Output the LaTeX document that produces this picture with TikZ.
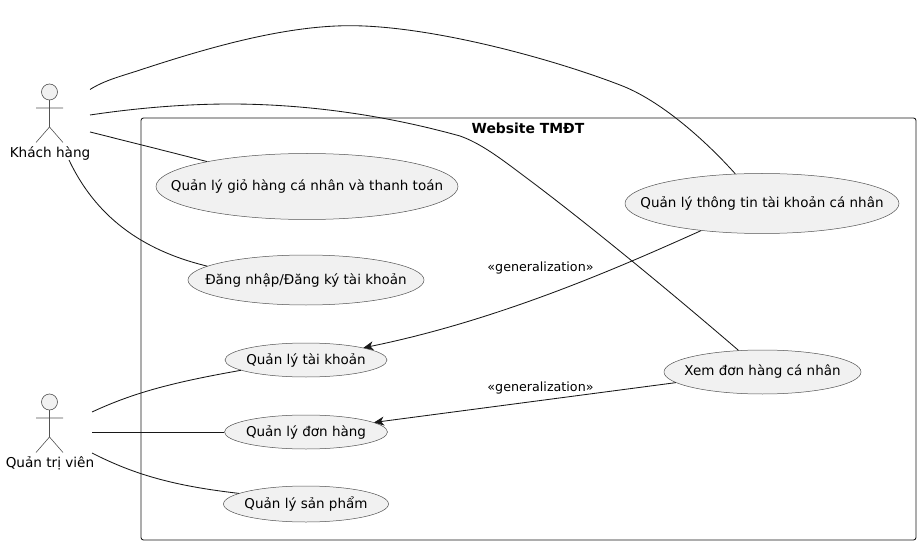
\documentclass[tikz,border=0pt]{standalone}
\usepackage{fontspec}
\setmainfont{DejaVu Sans}
\usetikzlibrary{arrows.meta,shapes.geometric}
\definecolor{usefill}{HTML}{F1F1F1}
\definecolor{lineink}{HTML}{181818}
\tikzset{>={Stealth[length=10pt,width=9pt,inset=3pt]}}
\tikzstyle{usecase} = [draw=lineink!75,line width=0.5pt,fill=usefill,ellipse,inner sep=0pt,font=\fontsize{13.5}{16}\selectfont]
\tikzstyle{link} = [draw=lineink,line width=0.85pt]
\tikzstyle{arrow} = [link,->]
\tikzstyle{figure} = [draw=lineink!75,line width=0.6pt]
\tikzstyle{caption} = [inner sep=0pt,font=\fontsize{13.6}{16}\selectfont]
\tikzstyle{stereo} = [inner sep=0pt,font=\fontsize{12.7}{14}\selectfont]
\newcommand{\usetext}[1]{\makebox[0pt]{#1}}

\begin{document}
\begin{tikzpicture}[x=1pt,y=-1pt]
\useasboundingbox (0,0) rectangle (920,545);

% system boundary
\draw[link,rounded corners=2.5pt] (141,118) rectangle (916,540);
\node[inner sep=0pt,font=\fontsize{13.9}{16}\selectfont\bfseries] (title) at (528,128.5) {Website TMĐT};

% actors
\foreach \ypos in {0,310} {
  \draw[figure,fill=usefill] (49.5,92+\ypos) circle (8);
  \draw[figure] (49.5,100+\ypos) -- (49.5,127+\ypos) (36,108+\ypos) -- (63,108+\ypos)
    (36,142.5+\ypos) -- (49.5,127+\ypos) -- (63,142.5+\ypos);
}
\node[caption] (customer) at (50,153) {Khách hàng};
\node[caption] (admin) at (50,463) {Quản trị viên};

% use cases
\node[usecase,minimum width=302pt,minimum height=66pt] (cart) at (307,186.5) {\usetext{Quản lý giỏ hàng cá nhân và thanh toán}};
\node[usecase,minimum width=236pt,minimum height=50pt] (login) at (306,280) {\usetext{Đăng nhập/Đăng ký tài khoản}};
\node[usecase,minimum width=162pt,minimum height=34pt] (accounts) at (306,360) {\usetext{Quản lý tài khoản}};
\node[usecase,minimum width=163pt,minimum height=34pt] (orders) at (306,432) {\usetext{Quản lý đơn hàng}};
\node[usecase,minimum width=165pt,minimum height=36pt] (products) at (306,504) {\usetext{Quản lý sản phẩm}};
\node[usecase,minimum width=274pt,minimum height=60pt] (profile) at (762,203.5) {\usetext{Quản lý thông tin tài khoản cá nhân}};
\node[usecase,minimum width=197pt,minimum height=44pt] (myorders) at (762.5,372) {\usetext{Xem đơn hàng cá nhân}};

% free ends near the actors
\coordinate (c1) at (90,89.5);
\coordinate (c2) at (90,115);
\coordinate (c3) at (90,132);
\coordinate (c4) at (69,160);
\coordinate (a1) at (92,412);
\coordinate (a2) at (92,432);
\coordinate (a3) at (92,453);

\draw[link] (c1) .. controls (105,80) and (122,76) .. (140,70)
  .. controls (210,47) and (285,25.7) .. (350,25.7)
  .. controls (430,25.7) and (550,58) .. (620,85)
  .. controls (660,100) and (705,140) .. (profile.132);
\draw[link] (c2) .. controls (130,109) and (180,104) .. (230,104)
  .. controls (290,104) and (370,111) .. (460,136)
  .. controls (480,143) and (500,158) .. (520,173)
  .. controls (590,225) and (680,300) .. (myorders.138);
\draw[link] (c3) .. controls (130,142) and (170,152) .. (cart.166);
\draw[link] (c4) .. controls (95,215) and (140,250) .. (login.172.6);

\draw[link] (a1) .. controls (135,392) and (175,382) .. (accounts.189);
\draw[link] (a2) -- (orders.west);
\draw[link] (a3) .. controls (135,475) and (175,486) .. (products.171);

\draw[arrow] (profile.204.3) .. controls (620,267) and (500,320) .. (accounts.12);
\draw[arrow] (myorders.187.4) -- (orders.8);

\node[stereo] (gen1) at (540.5,267.5) {«generalization»};
\node[stereo] (gen2) at (540.5,387.5) {«generalization»};

\end{tikzpicture}
\end{document}
